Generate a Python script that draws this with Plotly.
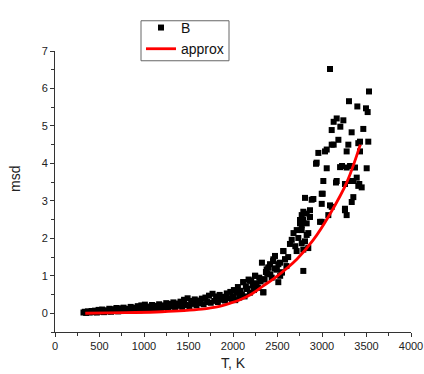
import plotly.graph_objects as go

# ---- scatter data "B" (T, K  /  msd) ----
T_low = [320, 335, 350, 370, 390, 410, 430, 450, 470, 490, 510, 530, 550, 570, 590,
         610, 630, 650, 670, 690, 710, 730, 750, 770, 790, 810, 830, 850, 870, 890,
         910, 930, 950, 970, 990, 1010, 1030, 1050, 1070, 1090, 1110, 1130, 1150, 1170,
         1190, 1210, 1230, 1250, 1270, 1290, 1310, 1330, 1350, 1370, 1390, 1410, 1430,
         1450, 1470, 1490, 1510, 1530, 1550, 1570, 1590, 1610, 1630, 1650, 1670, 1690,
         1710, 1730, 1750, 1770, 1790, 1810, 1830, 1850, 1870, 1890, 1910, 1930, 1950,
         1970, 1990]
msd_low = [0.02, 0.04, 0.01, 0.05, 0.02, 0.06, 0.03, 0.07, 0.02, 0.09, 0.04, 0.10, 0.03, 0.08, 0.05,
           0.12, 0.04, 0.11, 0.06, 0.14, 0.05, 0.13, 0.08, 0.15, 0.06, 0.12, 0.09, 0.17, 0.07, 0.15,
           0.10, 0.19, 0.08, 0.21, 0.12, 0.23, 0.09, 0.18, 0.13, 0.22, 0.10, 0.20, 0.14, 0.24,
           0.12, 0.21, 0.16, 0.27, 0.13, 0.25, 0.18, 0.29, 0.15, 0.26, 0.20, 0.31, 0.17,
           0.36, 0.22, 0.40, 0.19, 0.33, 0.25, 0.37, 0.21, 0.34, 0.27, 0.39, 0.24, 0.42,
           0.30, 0.47, 0.28, 0.52, 0.33, 0.45, 0.30, 0.49, 0.36, 0.44, 0.34, 0.53, 0.40,
           0.57, 0.38]

T_mid = [2000, 2010, 2025, 2040, 2055, 2070, 2085, 2100, 2115, 2130, 2145, 2160, 2175, 2190,
         2205, 2220, 2235, 2250, 2265, 2280, 2295, 2310, 2325, 2340, 2355, 2370, 2385, 2400,
         2420, 2435, 2450, 2470, 2490, 2510, 2530, 2550, 2565, 2585, 2600, 2620, 2640, 2660,
         2680, 2700, 2715, 2472, 2378, 2416, 2528, 2453, 2566]
msd_mid = [0.45, 0.62, 0.35, 0.56, 0.70, 0.42, 0.60, 0.50, 0.83, 0.45, 0.72, 0.65, 0.90, 0.55,
           0.87, 0.75, 0.62, 1.00, 0.80, 0.68, 0.95, 0.85, 1.35, 0.56, 0.90, 1.10, 1.05, 1.22,
           1.04, 0.95, 1.39, 1.20, 1.17, 1.31, 1.00, 1.09, 1.66, 1.44, 1.26, 1.50, 1.85, 1.96,
           2.14, 1.79, 1.66, 1.53, 1.17, 1.31, 1.35, 1.44, 1.66]

T_high = [2247, 2322, 2191, 2116, 2228, 2341, 2509, 2154, 2041, 2079, 2004,
          2397, 2547, 2491, 2584, 2846, 2772, 2734, 2828, 2716, 2772, 2978,
          2753, 3071, 2828, 2772, 3277, 3258, 2865, 3090, 2997, 2884, 2809, 3334,
          3352, 3008, 3408, 3390, 3315, 3258, 3157, 3015, 3502, 3371, 3277, 3225,
          3053, 2933, 3408, 3277, 3296, 2959, 3053, 3109, 3184,
          3090, 3528, 3303, 3397, 3494, 3513, 3165, 3240, 3131, 3206, 3109, 3464,
          3333, 3427, 3520, 3034, 3427, 3131,
          3419, 3446, 3352, 3315, 3203, 2940, 3165, 2997, 2903, 3109, 2997, 3258,
          2865, 2790, 2790, 2828, 2772, 2846, 2809, 2790, 2753, 2790]
msd_high = [1.00, 0.91, 0.87, 0.83, 0.74, 0.56, 0.83, 0.65, 0.56, 0.48, 0.43,
            1.22, 1.09, 1.17, 1.44, 1.74, 1.87, 2.01, 2.09, 2.22, 2.35, 2.44,
            2.49, 2.62, 2.66, 2.62, 2.62, 2.75, 2.75, 2.88, 2.92, 3.03, 3.08, 2.97,
            3.10, 3.19, 3.40, 3.62, 3.53, 3.45, 3.49, 3.53, 3.87, 3.89, 3.89, 3.93,
            3.87, 3.99, 4.54, 4.32, 4.50, 4.28, 4.37, 4.50, 4.63,
            6.52, 5.92, 5.66, 5.52, 5.47, 5.37, 5.20, 5.15, 5.11, 4.98, 4.89, 4.92,
            4.83, 4.58, 4.58, 4.32, 4.32, 4.50,
            3.45, 3.36, 3.53, 3.93, 3.90, 4.02, 3.53, 3.19, 3.05, 2.84, 2.44, 2.79,
            2.57, 2.71, 2.49, 2.40, 2.22, 2.14, 1.92, 1.70, 2.40, 1.13]

# ---- fitted curve "approx" ----
T_fit = [340, 600, 900, 1200, 1450, 1650, 1820, 1970, 2080, 2200, 2340, 2500, 2720, 2900, 3090, 3280, 3430]
msd_fit = [0.0, 0.01, 0.02, 0.04, 0.07, 0.11, 0.17, 0.27, 0.36, 0.50, 0.73, 1.00, 1.45, 1.95, 2.65, 3.50, 4.50]

T_all = T_low + T_mid + T_high
msd_all = msd_low + msd_mid + msd_high

FONT = "Liberation Sans, Arial, sans-serif"

fig = go.Figure()
fig.add_trace(go.Scatter(
    x=T_all, y=msd_all, mode="markers", name="B",
    marker=dict(symbol="square", size=6, color="black", line=dict(width=0)),
))
fig.add_trace(go.Scatter(
    x=T_fit, y=msd_fit, mode="lines", name="approx",
    line=dict(color="#ff0000", width=2.8, shape="spline"),
))

axis_common = dict(
    showline=True, linecolor="#333", linewidth=1, mirror=False,
    showgrid=False, zeroline=False, automargin=False,
    ticks="outside", ticklen=4, tickcolor="#333", tickwidth=1,
    tickfont=dict(family=FONT, size=11, color="#222"),
)

fig.update_layout(
    width=424, height=374,
    margin=dict(l=55, r=13, t=44, b=42),
    paper_bgcolor="white", plot_bgcolor="white",
    font=dict(family=FONT, color="#222"),
    xaxis=dict(range=[0, 4000], tickmode="linear", tick0=0, dtick=500,
               minor=dict(ticks="outside", ticklen=3, dtick=250, tickcolor="#333"),
               **axis_common),
    yaxis=dict(range=[-0.5, 7], tickmode="linear", tick0=0, dtick=1,
               minor=dict(ticks="outside", ticklen=3, dtick=0.5, tick0=0, tickcolor="#333"),
               **axis_common),
    showlegend=True,
    legend=dict(x=0.2416, y=1.139, xanchor="left", yanchor="top",
                borderwidth=0, bgcolor="rgba(0,0,0,0)",
                font=dict(family=FONT, size=14, color="#111"),
                tracegroupgap=0),
    shapes=[
        dict(type="rect", xref="paper", yref="paper",
             x0=0.2416, x1=0.4888, y0=0.9653, y1=1.1076,
             line=dict(color="#666", width=1), fillcolor="rgba(0,0,0,0)", layer="above"),
    ],
    annotations=[
        dict(text="msd", x=-0.112, y=0.545, xref="paper", yref="paper",
             textangle=-90, showarrow=False, xanchor="center", yanchor="middle",
             font=dict(family=FONT, size=14, color="#222")),
        dict(text="T, K", x=0.5, y=-0.111, xref="paper", yref="paper",
             showarrow=False, xanchor="center", yanchor="middle",
             font=dict(family=FONT, size=14, color="#222")),
    ],
)

fig.write_html("out.html", config={"displayModeBar": False},
               post_script="document.body.style.margin='0';")
